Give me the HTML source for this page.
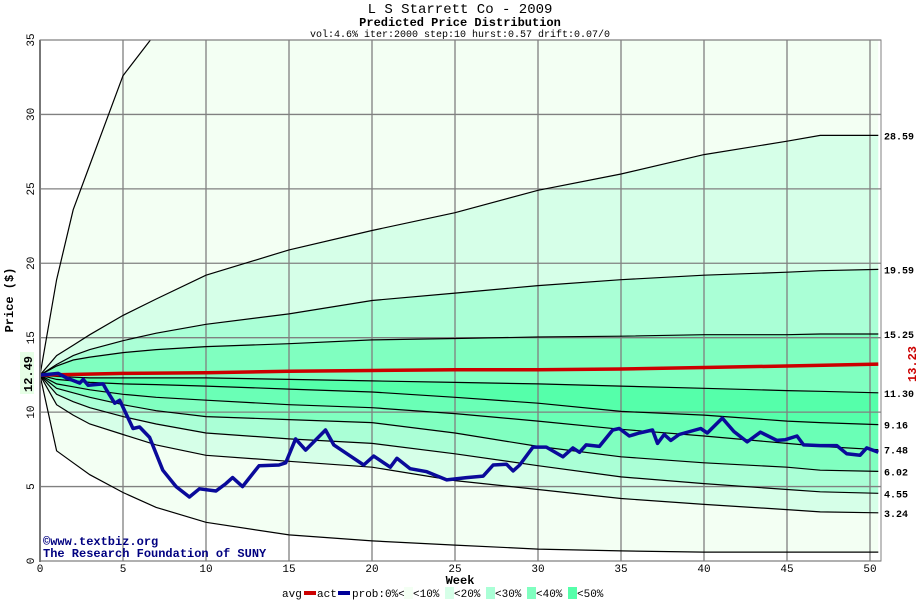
<!DOCTYPE html>
<html><head><meta charset="utf-8"><style>
body{margin:0;background:#fff;}
svg{display:block;font-family:"Liberation Mono",monospace;}
</style></head><body>
<svg id="chart" width="920" height="600" viewBox="0 0 920 600" xmlns="http://www.w3.org/2000/svg">
<defs><clipPath id="plotclip"><rect x="40" y="40" width="841" height="521"/></clipPath></defs>
<text x="460" y="13" text-anchor="middle" font-size="14">L S Starrett Co - 2009</text>
<text x="460" y="26" text-anchor="middle" font-size="12" font-weight="bold">Predicted Price Distribution</text>
<text x="460" y="37" text-anchor="middle" font-size="10">vol:4.6% iter:2000 step:10 hurst:0.57 drift:0.07/0</text>
<rect x="40" y="40" width="841" height="521" fill="#fff"/>
<g id="bands" clip-path="url(#plotclip)"></g>
<g id="grid"></g>
<g id="curves" clip-path="url(#plotclip)"></g>
<g id="series" clip-path="url(#plotclip)"></g>
<rect x="40" y="40" width="841" height="521" fill="none" stroke="#808080" stroke-width="1"/>
<line x1="40" y1="40" x2="40" y2="562" stroke="#777" stroke-width="2"/>
<g id="ticks"></g>
<text transform="translate(13,300) rotate(-90)" text-anchor="middle" font-size="12" font-weight="bold">Price ($)</text>
<text x="460" y="584" text-anchor="middle" font-size="12" font-weight="bold">Week</text>
<rect x="20" y="352" width="14" height="42" fill="#e6ffe6"/>
<text transform="translate(32,374) rotate(-90)" text-anchor="middle" font-size="12" font-weight="bold">12.49</text>
<text transform="translate(916,364) rotate(-90)" text-anchor="middle" font-size="12" font-weight="bold" fill="#cc0000">13.23</text>
<text x="43" y="545" font-size="12" font-weight="bold" fill="#000080">©www.textbiz.org</text>
<text x="43" y="557" font-size="12" font-weight="bold" fill="#000080">The Research Foundation of SUNY</text>
<g id="legend"></g>
</svg>
<script>
const weeks = [0,1,2,3,5,7,10,15,20,25,30,35,40,45,47,50.5];
const pMax  = [12.49,18.9,23.6,26.6,32.6,35.5,36,36,36,36,36,36,36,36,36,36];
const p2859 = [12.49,13.8,14.5,15.2,16.5,17.6,19.2,20.9,22.2,23.4,24.9,26.0,27.3,28.2,28.59,28.59];
const p1959 = [12.49,13.2,13.8,14.2,14.8,15.3,15.9,16.6,17.5,18.0,18.5,18.9,19.2,19.4,19.5,19.59];
const p1525 = [12.49,13.1,13.5,13.7,14.0,14.2,14.4,14.6,14.85,14.95,15.05,15.1,15.2,15.2,15.25,15.25];
const p1130 = [12.49,12.4,12.35,12.3,12.3,12.3,12.3,12.2,12.1,12.0,11.9,11.75,11.6,11.45,11.4,11.3];
const p916  = [12.49,12.2,12.1,12.0,11.9,11.85,11.75,11.55,11.35,11.0,10.6,10.05,9.8,9.4,9.3,9.16];
const p748  = [12.49,11.9,11.7,11.5,11.2,11.0,10.8,10.5,10.3,9.9,9.4,8.85,8.4,7.9,7.7,7.48];
const p602  = [12.49,11.6,11.3,11.0,10.5,10.1,9.7,9.5,9.3,8.6,7.7,7.0,6.6,6.3,6.1,6.02];
const p455  = [12.49,11.2,10.7,10.3,9.7,9.2,8.6,8.2,7.9,7.2,6.4,5.65,5.2,4.8,4.65,4.55];
const p324  = [12.49,10.5,9.8,9.2,8.5,7.8,7.1,6.7,6.3,5.4,4.8,4.2,3.8,3.45,3.3,3.24];
const pMin  = [12.49,7.4,6.6,5.8,4.6,3.6,2.6,1.75,1.35,1.07,0.8,0.68,0.6,0.6,0.6,0.6];
const endLabels = ["28.59","19.59","15.25","11.30","9.16","7.48","6.02","4.55","3.24"];
const avgWeeks = [0,5,10,15,20,25,30,35,40,45,50.5];
const avgValues = [12.49,12.6,12.65,12.75,12.8,12.85,12.85,12.9,13.0,13.1,13.23];
const actWeeks = [0,1.1,1.6,2.4,2.6,2.9,3.8,4,4.5,4.8,5.6,6,6.6,7.4,8.2,9,9.6,10.6,11.2,11.6,12.2,13.2,14.4,14.8,15.4,16,17.2,17.7,18.7,19.5,20.1,21.1,21.5,22.3,23.3,24.5,25.7,26.7,27.3,28.1,28.5,28.9,29.7,30.5,31.5,32.1,32.5,32.9,33.7,34.5,34.9,35.5,36.1,36.9,37.2,37.6,38,38.5,39.8,40.2,41.1,41.8,42.6,43.4,44.4,44.9,45.6,46,47,48,48.6,49.4,49.8,50.5];
const actValues = [12.49,12.6,12.3,11.95,12.2,11.8,11.9,11.5,10.6,10.8,8.9,9.0,8.3,6.1,5.0,4.3,4.85,4.7,5.2,5.6,5.0,6.4,6.45,6.6,8.2,7.45,8.8,7.8,7.05,6.45,7.05,6.3,6.9,6.2,6.0,5.45,5.6,5.7,6.45,6.5,6.05,6.45,7.65,7.65,7.0,7.6,7.3,7.8,7.7,8.8,8.9,8.4,8.6,8.8,7.9,8.5,8.1,8.5,8.9,8.6,9.6,8.7,8.0,8.65,8.1,8.15,8.4,7.8,7.75,7.75,7.2,7.1,7.6,7.3];
const bandColors = ["#f3fff3","#d6ffe8","#aaffd6","#80ffc0","#55ffaa","#6affb6","#80ffc0","#aaffd6","#d6ffe8","#f3fff3"];
const xTicks = [0,5,10,15,20,25,30,35,40,45,50];
const yTicks = [0,5,10,15,20,25,30,35];
const legendLabels = ["<10%","<20%","<30%","<40%","<50%"];
const legendColors = ["#f3fff3","#d6ffe8","#aaffd6","#80ffc0","#55ffaa"];

const NS="http://www.w3.org/2000/svg";
const X0=40, XS=16.6, Y0=561, YS=14.886;
function xs(w){return X0+w*XS;}
function ys(v){return Y0-v*YS;}
function mk(tag,parent,attrs){const e=document.createElementNS(NS,tag);for(const k in attrs)e.setAttribute(k,attrs[k]);parent.appendChild(e);return e;}
function pts(ws,vs){return ws.map((w,i)=>xs(w).toFixed(1)+","+ys(vs[i]).toFixed(1));}

const curves=[pMax,p2859,p1959,p1525,p1130,p916,p748,p602,p455,p324,pMin];
const bandsG=document.getElementById('bands');
for(let i=0;i<curves.length-1;i++){
  const top=pts(weeks,curves[i]);
  const bot=pts(weeks,curves[i+1]).reverse();
  const p=mk('polygon',bandsG,{points:top.concat(bot).join(' '),fill:bandColors[i]});
  
  
}
const gridG=document.getElementById('grid');
xTicks.forEach(t=>{const l=mk('line',gridG,{x1:xs(t),y1:40,x2:xs(t),y2:561,stroke:'#808080','stroke-width':1.3});
  
  });
yTicks.forEach(t=>{const l=mk('line',gridG,{x1:40,y1:ys(t),x2:881,y2:ys(t),stroke:'#808080','stroke-width':1.3});
  
  });
const curvesG=document.getElementById('curves');
curves.forEach((c,i)=>{const l=mk('polyline',curvesG,{points:pts(weeks,c).join(' '),fill:'none',stroke:'#000','stroke-width':1.2});
  
  });
const seriesG=document.getElementById('series');
const avg=mk('polyline',seriesG,{points:pts(avgWeeks,avgValues).join(' '),fill:'none',stroke:'#cc0000','stroke-width':3.5});


const act=mk('polyline',seriesG,{points:pts(actWeeks,actValues).join(' '),fill:'none',stroke:'#0a0a9a','stroke-width':3.5,'stroke-linejoin':'round'});


const ticksG=document.getElementById('ticks');
xTicks.forEach(t=>{const e=mk('text',ticksG,{x:xs(t),y:572,'text-anchor':'middle','font-size':11});e.textContent=t;
  
  });
yTicks.forEach(t=>{const e=mk('text',ticksG,{transform:'translate(34,'+ys(t)+') rotate(-90)','text-anchor':'middle','font-size':11});e.textContent=t;
  
  });
endLabels.forEach((s,i)=>{const e=mk('text',ticksG,{x:884,y:ys(parseFloat(s))+4,'font-size':10,'font-weight':'bold'});e.textContent=s;
  
  });
const lg=document.getElementById('legend');
let lx=282;
function ltext(s,x){const e=mk('text',lg,{x:x,y:597,'font-size':11});e.textContent=s;return e;}
ltext('avg',lx);
let r=mk('rect',lg,{x:304,y:591,width:12,height:4,fill:'#cc0000'});


ltext('act',317);
r=mk('rect',lg,{x:338,y:591,width:12,height:4,fill:'#000099'});


ltext('prob:0%<',352);
let sx=404;
legendLabels.forEach((s,i)=>{const q=mk('rect',lg,{x:sx,y:587,width:9,height:12,fill:legendColors[i]});
  
  
  ltext(s,sx+9);sx+=41;});
</script>
</body></html>
